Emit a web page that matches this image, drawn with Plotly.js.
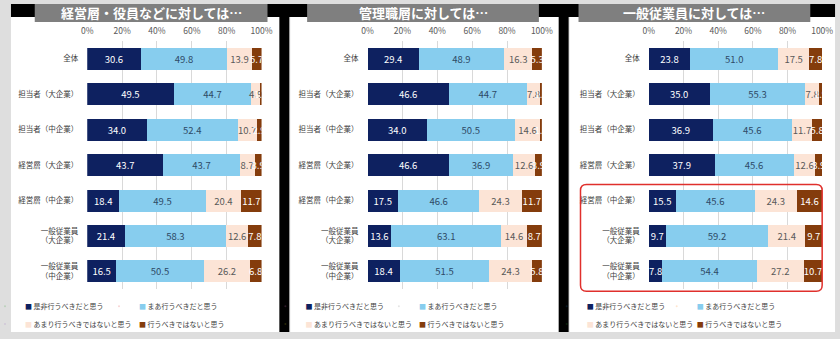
<!DOCTYPE html>
<html><head><meta charset="utf-8">
<script src="https://cdn.plot.ly/plotly-3.0.1.min.js"></script>
<style>html,body{margin:0;padding:0;background:#dedede;} #chart{width:840px;height:339px;}</style>
</head><body><div id="chart"></div>
<script>
// ---------- data ----------
const categories = ['全体','担当者（大企業）','担当者（中企業）','経営層（大企業）','経営層（中企業）','一般従業員<br>（大企業）','一般従業員<br>（中企業）'];
const seriesNames = ['是非行うべきだと思う','まあ行うべきだと思う','あまり行うべきではないと思う','行うべきではないと思う'];
const panelTitles = ['経営層・役員などに対しては…','管理職層に対しては…','一般従業員に対しては…'];
const tickVals = [0,20,40,60,80,100];
const tickLabels = ['0%','20%','40%','60%','80%','100%'];

const p1Strong  = [30.6,49.5,34.0,43.7,18.4,21.4,16.5];
const p1Some    = [49.8,44.7,52.4,43.7,49.5,58.3,50.5];
const p1NotVery = [13.9,4.9,10.7,8.7,20.4,12.6,26.2];
const p1Not     = [5.7,1.0,2.9,3.9,11.7,7.8,6.8];

const p2Strong  = [29.4,46.6,34.0,46.6,17.5,13.6,18.4];
const p2Some    = [48.9,44.7,50.5,36.9,46.6,63.1,51.5];
const p2NotVery = [16.3,7.8,14.6,12.6,24.3,14.6,24.3];
const p2Not     = [5.3,1.0,1.0,3.9,11.7,8.7,5.8];

const p3Strong  = [23.8,35.0,36.9,37.9,15.5,9.7,7.8];
const p3Some    = [51.0,55.3,45.6,45.6,45.6,59.2,54.4];
const p3NotVery = [17.5,7.8,11.7,12.6,24.3,21.4,27.2];
const p3Not     = [7.8,1.9,5.8,3.9,14.6,9.7,10.7];

const panels = [
  [p1Strong,p1Some,p1NotVery,p1Not],
  [p2Strong,p2Some,p2NotVery,p2Not],
  [p3Strong,p3Some,p3NotVery,p3Not]
];

// ---------- styles ----------
const W = 840, H = 339;
const px = v => v / W;
const py = v => 1 - v / H;
const colors = ['#0e2160','#87cdee','#fce4d6','#843c0c'];
const textColors = ['#ffffff','#2e4a66','#595959','#ffffff'];
const FONT = '"Noto Sans CJK JP", "Noto Sans", sans-serif';
const plotX = [[80,256],[363,539],[647,822]];
const plotY = [41.2, 290];
const titleBars = [[27,262],[302,536],[576,810]];
const legendTextX = [[26.5,155.5],[310,438.5],[594,719]];
const legendRowY = [307, 325];

const axSuffix = ['', '2', '3'];
const traces = [];
panels.forEach((series, p) => {
  series.forEach((vals, s) => {
    traces.push({
      type: 'bar', orientation: 'h',
      x: vals, y: categories,
      xaxis: 'x' + axSuffix[p], yaxis: 'y' + axSuffix[p],
      name: seriesNames[s], showlegend: false,
      marker: {color: colors[s], line: {width: 0}},
      texttemplate: '%{x:.1f}', textposition: 'inside', insidetextanchor: 'middle',
      constraintext: 'none', textangle: 0,
      textfont: {family: FONT, size: 9.5, color: textColors[s]},
      hoverinfo: 'skip'
    });
  });
});
// legend entries
panels.forEach((series, p) => {
  seriesNames.forEach((nm, s) => {
    const row = s < 2 ? 0 : 1;
    const idx = p * 2 + row;
    const lid = 'legend' + (idx === 0 ? '' : String(idx + 1));
    traces.push({
      type: 'scatter', mode: 'markers', x: [null], y: [null],
      xaxis: 'x' + axSuffix[p], yaxis: 'y' + axSuffix[p],
      marker: {opacity: 0, size: 1},
      name: '<span style="color:' + colors[s] + '">■</span> ' + nm,
      legend: lid, showlegend: true, hoverinfo: 'skip'
    });
  });
});

const layout = {
  width: W, height: H,
  margin: {l: 0, r: 0, t: 0, b: 0},
  paper_bgcolor: '#dedede', plot_bgcolor: 'rgba(0,0,0,0)',
  barmode: 'stack', bargap: 0.38,
  font: {family: FONT, color: '#404040'},
  shapes: [], annotations: []
};
[0,1,2].forEach(p => {
  const sx = axSuffix[p];
  layout['xaxis' + sx] = {
    domain: [px(plotX[p][0]), px(plotX[p][1])], anchor: 'y' + sx, side: 'top',
    range: [0, 100], tickmode: 'array', tickvals: tickVals, ticktext: tickLabels, ticks: '',
    ticklabelstandoff: 4,
    showgrid: true, gridcolor: '#d9d9d9', gridwidth: 1, zeroline: false, showline: false,
    tickfont: {family: FONT, size: 8.5, color: '#595959'}, fixedrange: true
  };
  layout['yaxis' + sx] = {
    domain: [py(plotY[1]), py(plotY[0])], anchor: 'x' + sx,
    type: 'category', autorange: 'reversed', ticks: '', ticklabelstandoff: 8,
    showgrid: false, zeroline: false, showline: false,
    tickfont: {family: FONT, size: 7.5, color: '#404040'}, fixedrange: true
  };
});
// legends
for (let p = 0; p < 3; p++) {
  for (let row = 0; row < 2; row++) {
    const idx = p * 2 + row;
    const key = 'legend' + (idx === 0 ? '' : String(idx + 1));
    layout[key] = {
      orientation: 'h', traceorder: 'normal', indentation: -15,
      x: px(legendTextX[p][0] - 35), xanchor: 'left',
      y: py(legendRowY[row] - 14.5), yanchor: 'top',
      entrywidth: legendTextX[p][1] - legendTextX[p][0] - 45, entrywidthmode: 'pixels',
      bgcolor: 'rgba(0,0,0,0)', borderwidth: 0,
      font: {family: FONT, size: 7, color: '#404040'}
    };
  }
}
// background decoration
const S = layout.shapes;
const rect = (x0, y0, x1, y1, color, layer) => S.push({type: 'rect', xref: 'paper', yref: 'paper',
  x0: px(x0), x1: px(x1), y0: py(y1), y1: py(y0), fillcolor: color, line: {width: 0}, layer: layer || 'below'});
rect(3, 4, 835, 17, '#000000');
rect(3, 17, 274, 333, '#ffffff');
rect(274, 17, 284, 333, '#000000');
rect(285, 17, 556, 333, '#ffffff');
rect(556, 17, 566, 333, '#000000');
rect(567, 17, 835, 333, '#ffffff');
titleBars.forEach((b, p) => {
  rect(b[0], 4, b[1], 22, '#7f7f7f');
  layout.annotations.push({
    xref: 'paper', yref: 'paper', x: px((b[0] + b[1]) / 2), y: py(13),
    xanchor: 'center', yanchor: 'middle', showarrow: false,
    text: '<b>' + panelTitles[p] + '</b>',
    font: {family: FONT, size: 13, color: '#ffffff'}
  });
});
// red rounded highlight box (panel 3)
(function(){
  const x0 = px(578), x1 = px(822), yt = py(185), yb = py(292);
  const rx = 6 / W, ry = 6 / H;
  const path = `M ${x0+rx},${yt} L ${x1-rx},${yt} Q ${x1},${yt} ${x1},${yt-ry} L ${x1},${yb+ry} Q ${x1},${yb} ${x1-rx},${yb} ` +
               `L ${x0+rx},${yb} Q ${x0},${yb} ${x0},${yb+ry} L ${x0},${yt-ry} Q ${x0},${yt} ${x0+rx},${yt} Z`;
  S.push({type: 'path', xref: 'paper', yref: 'paper', path: path,
    line: {color: '#e0302c', width: 1.5}, fillcolor: 'rgba(0,0,0,0)', layer: 'above'});
})();

Plotly.newPlot('chart', traces, layout, {staticPlot: true, displayModeBar: false});
</script>
</body></html>
